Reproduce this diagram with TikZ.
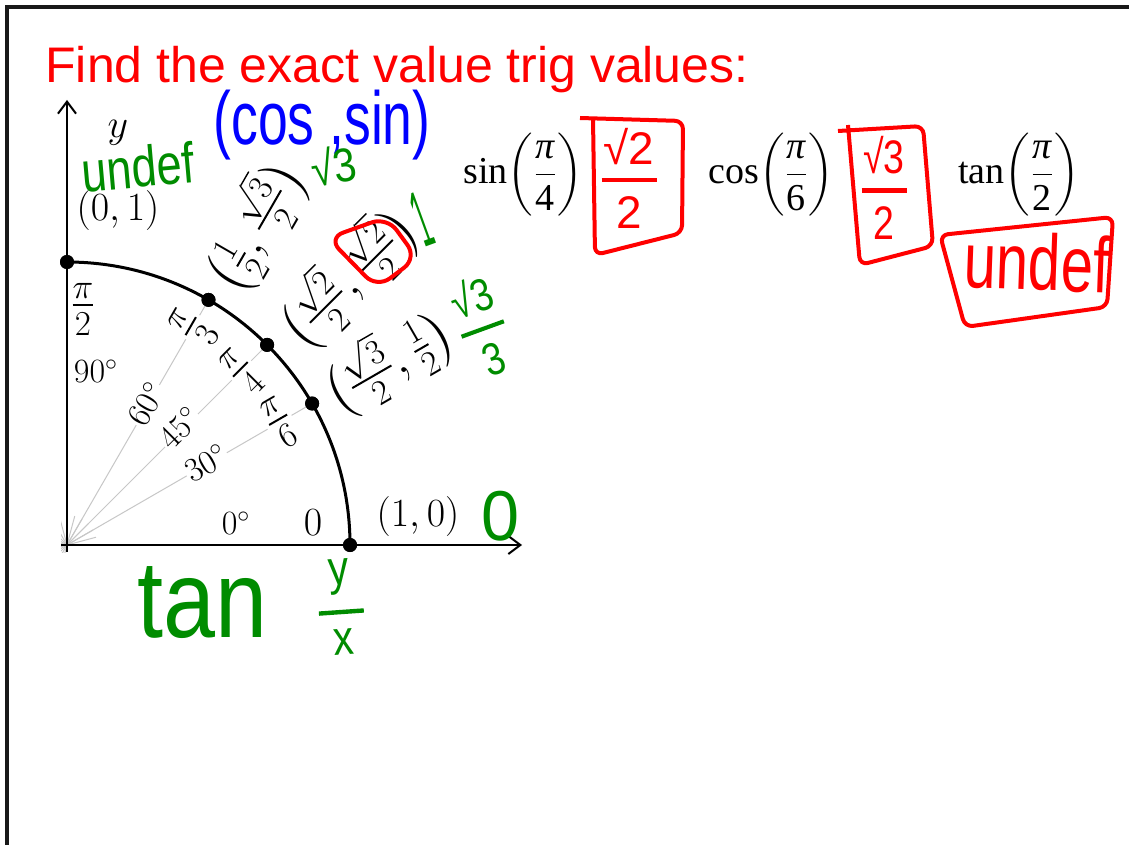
\documentclass[tikz,border=0pt]{standalone}
\usepackage{fix-cm}
\usepackage{amsmath}
\usepackage{fontspec}
\usepackage{graphicx}
\usetikzlibrary{arrows.meta}
\newfontfamily\titlef{Liberation Sans}
\newfontfamily\handf{Liberation Sans}
\newfontfamily\tmsf{Liberation Serif}
\newdimen\pxu \pxu=0.5pt
\newcommand{\hw}[3]{\resizebox*{#1\pxu}{#2\pxu}{\handf #3}}
\newcommand{\hfr}[3]{\shortstack{#1\\\rule{#3}{0.09em}\\#2}}
\newcommand{\trigx}[2]{{\tmsf #1}$\left(\dfrac{\text{\tmsf\itshape π}}{\text{\tmsf #2}}\right)$}
\definecolor{hred}{RGB}{255,0,0}
\definecolor{hgreen}{RGB}{0,140,0}
\definecolor{hblue}{RGB}{0,0,255}
\begin{document}
\begin{tikzpicture}[x=0.5pt,y=-0.5pt,
  lab/.style={font=\fontsize{20}{24}\selectfont, inner sep=1pt},
  biglab/.style={font=\fontsize{25}{29}\selectfont, inner sep=1pt},
  deglab/.style={font=\fontsize{17}{20}\selectfont, inner sep=1pt},
  whitebg/.style={fill=white, inner sep=0.5pt},
  ray/.style={draw=black!22, line width=0.5pt},
  axis/.style={line width=1pt, -{Straight Barb[length=6pt,width=9pt,line width=1pt]}},
  unitarc/.style={line width=1.5pt},
  dot/.style={circle, fill=black, inner sep=0pt, minimum size=7pt},
  hand/.style={inner sep=0pt},
  trig/.style={anchor=base west, inner sep=0pt, font=\fontsize{19}{23}\selectfont},
  redbox/.style={draw=hred, line width=2pt, rounded corners=4pt, line join=round},
]
\useasboundingbox (0,0) rectangle (1129,845);
\fill[white] (0,0) rectangle (1129,845);
\draw[line width=1.6pt, black!90] (1129,7) -- (7,7) -- (7,845);

% title
\node[anchor=base west, inner sep=0pt, text=hred, font=\titlef\fontsize{25}{30}\selectfont] (title) at (45,83) {Find the exact value trig values:};

% unit circle
\coordinate (O) at (67,545);
\node[dot] (d0) at (350,545) {};
\node[dot] (d30) at (312.1,403.5) {};
\node[dot] (d45) at (267.1,344.9) {};
\node[dot] (d60) at (208.5,299.9) {};
\node[dot] (d90) at (67,262) {};

\draw[ray] (O) -- (d30.center);
\draw[ray] (O) -- (d45.center);
\draw[ray] (O) -- (d60.center);
\begin{scope}
  \clip (61,0) rectangle (1129,552);
  \foreach \a in {105,120,135,150,165,180,195,210,225,240,255,270,285,300,315,330,345}
    \draw[ray] (O) -- ++(\a:30);
\end{scope}

\coordinate (xs) at (61,545);
\coordinate (xe) at (522,545);
\coordinate (ys) at (67,552);
\coordinate (ye) at (67,100);
\draw[axis] (xs) -- (xe);
\draw[axis] (ys) -- (ye);
\draw[unitarc] (d0.center) arc[start angle=0, end angle=90, radius=141.5pt];
\foreach \n in {d0,d30,d45,d60,d90} \node[dot] at (\n) {};

% labels
\node[lab] (ylab) at (118,133) {$y$};
\node[lab] (p01) at (118,211) {$(0,1)$};
\node[lab] (p10) at (418,516) {$(1,0)$};
\node[lab] (zero) at (313,523) {$0$};
\node[biglab] (pihalf) at (83,309) {$\frac{\pi}{2}$};
\node[deglab] (deg90) at (96,371) {$90^\circ$};
\node[deglab] (deg0) at (236,523) {$0^\circ$};
\node[deglab, whitebg, rotate=60] (deg60) at (146,404) {$60^\circ$};
\node[deglab, whitebg, rotate=45] (deg45) at (179,428) {$45^\circ$};
\node[deglab, whitebg, rotate=30] (deg30) at (206,463) {$30^\circ$};
\node[biglab, whitebg, rotate=60] (pi3) at (194,328) {$\frac{\pi}{3}$};
\node[biglab, whitebg, rotate=45] (pi4) at (243,372) {$\frac{\pi}{4}$};
\node[biglab, whitebg, rotate=30] (pi6) at (280,423) {$\frac{\pi}{6}$};
\node[biglab, rotate=30] (c30) at (388,362) {$\bigl(\frac{\sqrt{3}}{2},\frac{1}{2}\bigr)$};
\node[biglab, rotate=45] (c45) at (348,278) {$\bigl(\frac{\sqrt{2}}{2},\frac{\sqrt{2}}{2}\bigr)$};
\node[biglab, rotate=60] (c60) at (255,226) {$\bigl(\frac{1}{2},\frac{\sqrt{3}}{2}\bigr)$};

% trig expressions
\node[trig] (sinq) at (463,184) {\trigx{sin}{4}};
\node[trig] (cosq) at (708,184) {\trigx{cos}{6}};
\node[trig] (tanq) at (958,184) {\trigx{tan}{2}};

% handwriting
\node[hand, text=hblue] (cossin) at (322,125) {\hw{217}{70}{(cos ,sin)}};
\node[hand, text=hgreen, rotate=5] (undefg) at (138,167) {\hw{113}{42}{undef}};
\node[hand, text=hgreen, rotate=10] (r3a) at (333,165) {\hw{45}{38}{√3}};
\node[hand, text=hgreen, rotate=20] (oneg) at (422,219) {\hw{14}{55}{1}};
\node[hand, text=hgreen, rotate=20] (r3b) at (482,327) {\hw{45}{100}{\hfr{√3}{3}{1.2em}}};
\node[hand, text=hgreen] (zerog) at (500,516) {\hw{38}{50}{0}};
\node[hand, text=hgreen] (tang) at (203,603) {\hw{130}{72}{tan}};
\node[hand, text=hgreen, rotate=4] (yx) at (341,607) {\hw{45}{95}{\hfr{y}{x}{1.1em}}};
\node[hand, text=hred] (ans1) at (629,178) {\hw{55}{100}{\hfr{√2}{2}{1.2em}}};
\node[hand, text=hred] (ans2) at (884,188) {\hw{45}{103}{\hfr{√3}{2}{1.2em}}};
\node[hand, text=hred, rotate=-2] (ans3) at (1037,262) {\hw{145}{58}{undef}};

\draw[redbox] (580,118) -- (683,121) -- (682,233) -- (595,255) -- (593,118);
\draw[redbox] (838,131) -- (923,126) -- (933,246) -- (860,265) -- (848,125);
\draw[redbox] (940,235) -- (1113,217) -- (1107,307) -- (965,327) -- cycle;
\draw[redbox, rounded corners=8pt] (328,238) -- (387,217) -- (417,258) -- (377,288) -- cycle;
\end{tikzpicture}
\end{document}
